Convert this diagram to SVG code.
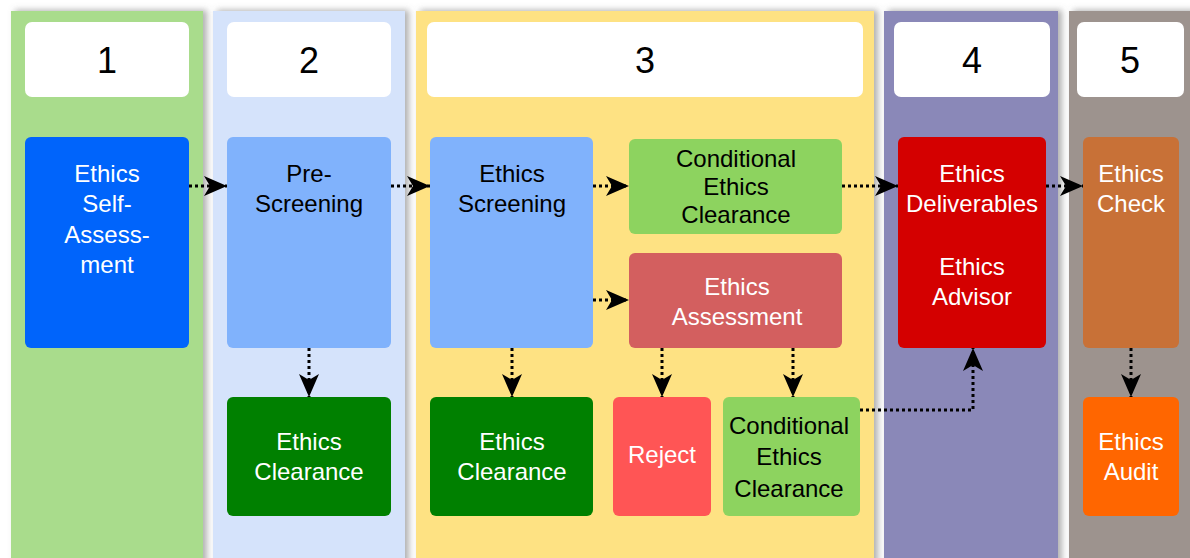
<svg xmlns="http://www.w3.org/2000/svg" width="1190" height="558" viewBox="0 0 1190 558">
  <style>
    text { font-family: "Liberation Sans", Arial, sans-serif; font-size: 24px; text-anchor: middle; }
    .num { font-size: 36px; fill: #000; }
    .w { fill: #ffffff; }
    .k { fill: #000000; }
    .head { fill: #ffffff; }
    .lane { filter: url(#laneShadow); }
    .conn { fill: none; stroke: #000; stroke-width: 3; stroke-dasharray: 3 3; marker-end: url(#arrow); }
  </style>
  <defs>
    <filter id="laneShadow" x="-10%" y="-5%" width="125%" height="115%">
      <feDropShadow dx="4" dy="-1" stdDeviation="3" flood-color="#6f6f6f" flood-opacity="0.55"/>
    </filter>
    <marker id="arrow" markerUnits="userSpaceOnUse" markerWidth="24" markerHeight="20" viewBox="0 0 24 20" refX="23" refY="10" orient="auto">
      <path d="M0,0 L23,10 L0,20 L6,10 Z" fill="#000"/>
    </marker>
  </defs>

  <rect width="1190" height="558" fill="#ffffff"/>

  <!-- swimlanes -->
  <g id="lanes">
    <rect class="lane" x="11" y="11" width="192" height="560" fill="#a9dc8c"/>
    <rect class="lane" x="213" y="11" width="192" height="560" fill="#d5e3fb"/>
    <rect class="lane" x="416" y="11" width="458" height="560" fill="#fee283"/>
    <rect class="lane" x="884" y="11" width="174" height="560" fill="#8a88b8"/>
    <rect class="lane" x="1069" y="11" width="140" height="560" fill="#9d938e"/>
  </g>

  <!-- stage headers -->
  <g id="header-1"><rect class="head" x="25" y="22" width="164" height="75" rx="7"/><text class="num" x="107" y="73">1</text></g>
  <g id="header-2"><rect class="head" x="227" y="22" width="164" height="75" rx="7"/><text class="num" x="309" y="73">2</text></g>
  <g id="header-3"><rect class="head" x="427" y="22" width="436" height="75" rx="7"/><text class="num" x="645" y="73">3</text></g>
  <g id="header-4"><rect class="head" x="894" y="22" width="156" height="75" rx="7"/><text class="num" x="972" y="73">4</text></g>
  <g id="header-5"><rect class="head" x="1077" y="22" width="107" height="75" rx="7"/><text class="num" x="1130" y="73">5</text></g>

  <!-- process nodes -->
  <g id="self-assessment">
    <rect x="25" y="137" width="164" height="211" rx="6" fill="#0064fb"/>
    <text class="w" x="107" y="182">Ethics</text>
    <text class="w" x="107" y="212">Self-</text>
    <text class="w" x="107" y="243">Assess-</text>
    <text class="w" x="107" y="273">ment</text>
  </g>
  <g id="pre-screening">
    <rect x="227" y="137" width="164" height="211" rx="6" fill="#80b2fc"/>
    <text class="k" x="309" y="182">Pre-</text>
    <text class="k" x="309" y="212">Screening</text>
  </g>
  <g id="clearance-2">
    <rect x="227" y="397" width="164" height="119" rx="6" fill="#008000"/>
    <text class="w" x="309" y="450">Ethics</text>
    <text class="w" x="309" y="480">Clearance</text>
  </g>
  <g id="ethics-screening">
    <rect x="430" y="137" width="163" height="211" rx="6" fill="#80b2fc"/>
    <text class="k" x="512" y="182">Ethics</text>
    <text class="k" x="512" y="212">Screening</text>
  </g>
  <g id="conditional-clearance-top">
    <rect x="629" y="139" width="213" height="95" rx="6" fill="#8dd35f"/>
    <text class="k" x="736" y="167">Conditional</text>
    <text class="k" x="736" y="195">Ethics</text>
    <text class="k" x="736" y="223">Clearance</text>
  </g>
  <g id="ethics-assessment">
    <rect x="629" y="253" width="213" height="95" rx="6" fill="#d35f5f"/>
    <text class="w" x="737" y="295">Ethics</text>
    <text class="w" x="737" y="325">Assessment</text>
  </g>
  <g id="clearance-3">
    <rect x="430" y="397" width="163" height="119" rx="6" fill="#008000"/>
    <text class="w" x="512" y="450">Ethics</text>
    <text class="w" x="512" y="480">Clearance</text>
  </g>
  <g id="reject">
    <rect x="613" y="397" width="98" height="119" rx="6" fill="#ff5555"/>
    <text class="w" x="662" y="463">Reject</text>
  </g>
  <g id="conditional-clearance-bottom">
    <rect x="723" y="397" width="137" height="119" rx="6" fill="#8dd35f"/>
    <text class="k" x="789" y="434">Conditional</text>
    <text class="k" x="789" y="465">Ethics</text>
    <text class="k" x="789" y="497">Clearance</text>
  </g>
  <g id="deliverables-advisor">
    <rect x="898" y="137" width="148" height="211" rx="6" fill="#d40000"/>
    <text class="w" x="972" y="182">Ethics</text>
    <text class="w" x="972" y="212">Deliverables</text>
    <text class="w" x="972" y="275">Ethics</text>
    <text class="w" x="972" y="305">Advisor</text>
  </g>
  <g id="ethics-check">
    <rect x="1083" y="137" width="96" height="211" rx="6" fill="#c87137"/>
    <text class="w" x="1131" y="182">Ethics</text>
    <text class="w" x="1131" y="212">Check</text>
  </g>
  <g id="ethics-audit">
    <rect x="1083" y="397" width="96" height="119" rx="6" fill="#ff6600"/>
    <text class="w" x="1131" y="450">Ethics</text>
    <text class="w" x="1131" y="480">Audit</text>
  </g>

  <!-- dotted flow connectors -->
  <g id="connectors">
    <path class="conn" d="M189,186 H227"/>
    <path class="conn" d="M391,186 H430"/>
    <path class="conn" d="M593,186 H629"/>
    <path class="conn" d="M842,186 H898"/>
    <path class="conn" d="M1046,186 H1083"/>
    <path class="conn" d="M593,300 H629"/>
    <path class="conn" d="M309,348 V397"/>
    <path class="conn" d="M512,348 V397"/>
    <path class="conn" d="M662,348 V397"/>
    <path class="conn" d="M793,348 V397"/>
    <path class="conn" d="M860,410 H973 V348"/>
    <path class="conn" d="M1131,348 V397"/>
  </g>
</svg>
